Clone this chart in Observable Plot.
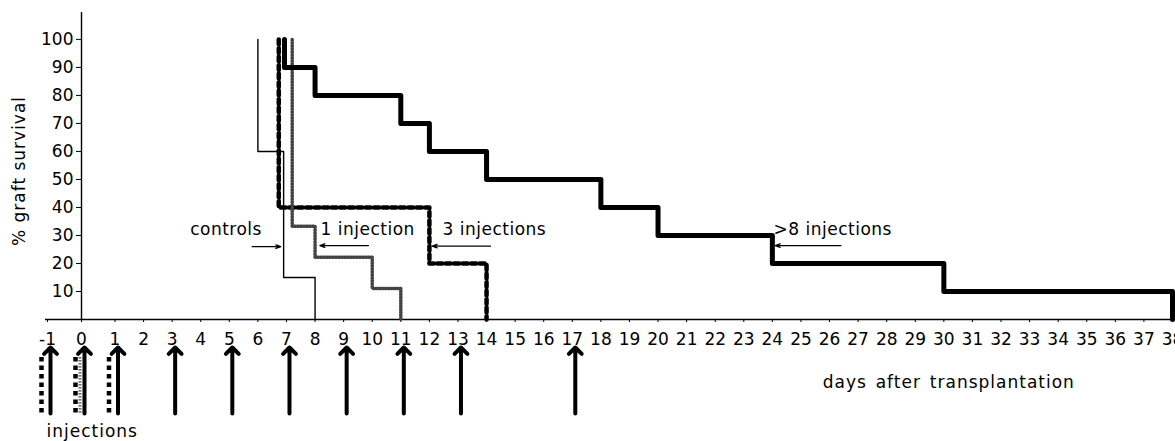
<!DOCTYPE html>
<html><head><meta charset="utf-8">
<script src="https://cdn.jsdelivr.net/npm/d3@7"></script>
<script src="https://cdn.jsdelivr.net/npm/@observablehq/plot@0.6"></script>
<style>
body{margin:0;background:#fff}
</style>
</head><body><div id="chart"></div>
<script>
// ---- data ----
const dayTicks = [-1,0,1,2,3,4,5,6,7,8,9,10,11,12,13,14,15,16,17,18,19,20,21,22,23,24,25,26,27,28,29,30,31,32,33,34,35,36,37,38];
const pctTicks = [10,20,30,40,50,60,70,80,90,100];

// step curves (day of drop, % survival after drop)
const controlsDay = [6, 6, 6.9, 8];
const controlsPct = [100, 60, 15, 0];
const oneInjDay = [7.2, 7.2, 8, 10, 11];
const oneInjPct = [100, 33.3, 22.2, 11.1, 0];
const threeInjDay = [6.73, 6.73, 12, 14];
const threeInjPct = [100, 40, 20, 0];
const manyInjDay = [6.93, 6.93, 8, 11, 12, 14, 18, 20, 24, 30, 38];
const manyInjPct = [100, 90, 80, 70, 60, 50, 40, 30, 20, 10, 0];

// injection schedule
const injectionDays = [-1, 0, 1, 3, 5, 7, 9, 11, 13, 17];
const threeInjSchedule = [-1, 0, 1];
const oneInjSchedule = [0];

// annotations
const noteLabels = ["controls", "1 injection", "3 injections", ">8 injections"];
const noteTextDay = [3.63, 8.19, 12.46, 24.04];
const noteTextPct = [32, 32, 32, 32];
const noteArrowFrom = [5.8, 9.87, 14.14, 26.4];
const noteArrowTo = [6.8, 8.17, 12.1, 24.1];
const noteArrowPct = [26, 26.4, 26.2, 26.4];
const yLabel = "% graft survival";
const xLabel = "days after transplantation";
const xLabelPos = {day: 25.76, pct: -22.4};
const injLabel = "injections";
const injLabelPos = {day: -1.03, pct: -39.9};

// ---- build tables ----
const pts = (xs, ys) => xs.map((d, i) => ({day: d, pct: ys[i]}));
const notes = noteLabels.map((t, i) => ({text: t, day: noteTextDay[i], pct: noteTextPct[i],
  from: noteArrowFrom[i], to: noteArrowTo[i], apct: noteArrowPct[i]}));

const chart = Plot.plot({
  width: 1175, height: 441,
  marginLeft: 81, marginRight: 0, marginTop: 12, marginBottom: 122,
  style: {fontFamily: "'DejaVu Sans', sans-serif", fontSize: "16px", background: "#fff", color: "#000"},
  x: {type: "linear", domain: [-1, 0, 1, 38], range: [47, 81, 114.5, 1172]},
  y: {domain: [0, 109.6]},
  marks: [
    Plot.ruleY([0], {x1: -1.06, x2: 39.5, strokeWidth: 1.4}),
    Plot.ruleX([0], {y1: 0, y2: 109.6, strokeWidth: 1.4}),
    Plot.axisX({ticks: dayTicks, tickSize: 3, tickPadding: 10, tickFormat: d => String(d), label: null, fontSize: 17}),
    Plot.axisY({ticks: pctTicks, tickSize: 5, tickPadding: 3, label: null, fontSize: 17}),
    Plot.line(pts(controlsDay, controlsPct), {x: "day", y: "pct", curve: "step-after", stroke: "#000", strokeWidth: 1.4}),
    Plot.line(pts(threeInjDay, threeInjPct), {x: "day", y: "pct", curve: "step-after", stroke: "#000", strokeWidth: 4.5, strokeDasharray: "5,3.5"}),
    Plot.line(pts(oneInjDay, oneInjPct), {x: "day", y: "pct", curve: "step-after", stroke: "#444", strokeWidth: 3.5, strokeDasharray: "1.2,1.8"}),
    Plot.line(pts(manyInjDay, manyInjPct), {x: "day", y: "pct", curve: "step-after", stroke: "#000", strokeWidth: 5}),
    // annotations
    Plot.text(notes, {x: "day", y: "pct", text: "text", textAnchor: "start", fontSize: 17}),
    Plot.arrow(notes, {x1: "from", x2: "to", y1: "apct", y2: "apct", stroke: "#000", strokeWidth: 1.3, headLength: 6, headAngle: 40}),
    // injection schedule
    Plot.ruleX(threeInjSchedule, {x: d => d, y1: -33.4, y2: -13.5, dx: -6, stroke: "#000", strokeWidth: 4.5, strokeDasharray: "4.5,4"}),
    Plot.ruleX(oneInjSchedule, {x: d => d, y1: -33.4, y2: -13.5, dx: -1.5, stroke: "#444", strokeWidth: 3, strokeDasharray: "1.2,1.8"}),
    Plot.arrow(injectionDays, {x1: d => d, x2: d => d, y1: -33.6, y2: -10, dx: 3, stroke: "#000", strokeWidth: 4, headLength: 3.4, headAngle: 90}),
    // axis titles
    Plot.text([yLabel], {text: d => d, frameAnchor: "left", textAnchor: "middle", dx: -62, dy: 5, rotate: -90, fontSize: 17}),
    Plot.text([xLabel], {x: () => xLabelPos.day, y: () => xLabelPos.pct, text: d => d, textAnchor: "start", fontSize: 17}),
    Plot.text([injLabel], {x: () => injLabelPos.day, y: () => injLabelPos.pct, text: d => d, textAnchor: "start", fontSize: 17})
  ]
});
// letter spacing to match the wide lettering of the original
d3.select(chart).selectAll("text").each(function () {
  const t = this.textContent;
  if (t === xLabel) d3.select(this).style("letter-spacing", "1px").style("word-spacing", "2.5px");
  else if (t === injLabel || t === yLabel) d3.select(this).style("letter-spacing", "1px");
  else if (noteLabels.includes(t)) d3.select(this).style("letter-spacing", "0.5px");
});
document.getElementById("chart").appendChild(chart);
</script>
</body></html>
